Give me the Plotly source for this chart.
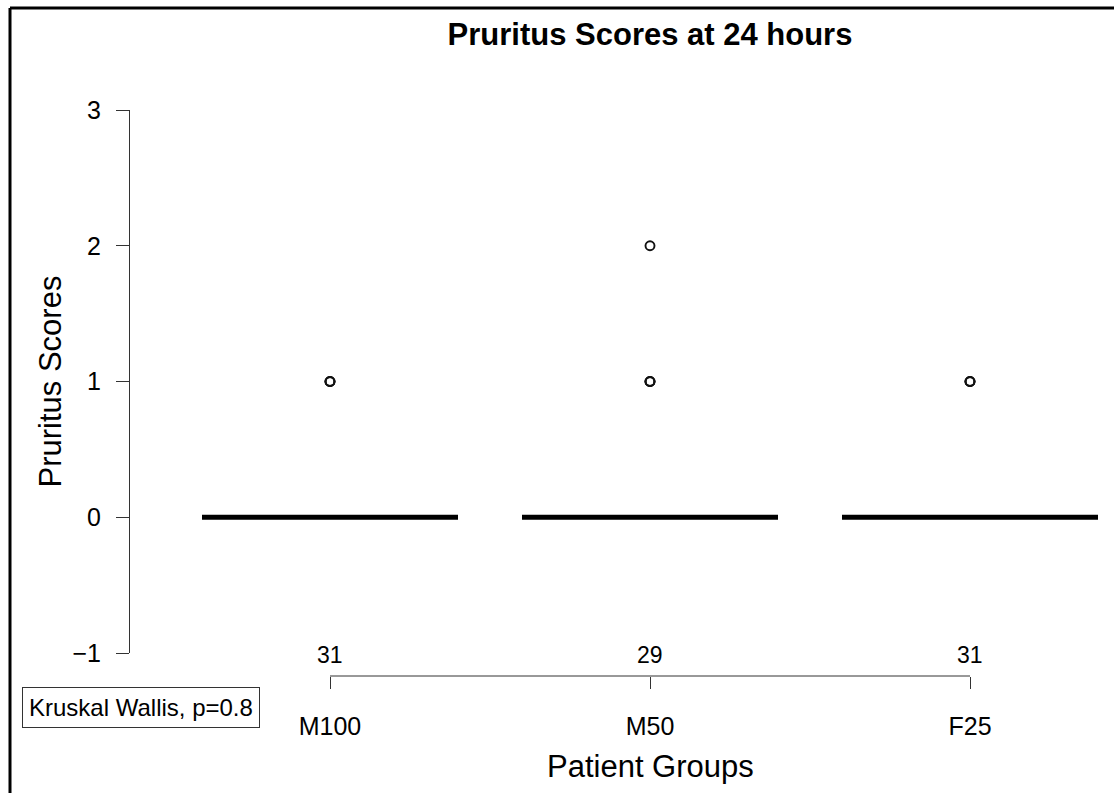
import numpy as np
import plotly.graph_objects as go

# ---- data ----
groups = ["M100", "M50", "F25"]
group_pos = [1, 2, 3]
score_levels = [0, 1, 2]
# number of patients at each score level (0, 1, 2) per group
counts_M100 = [28, 3, 0]
counts_M50 = [25, 3, 1]
counts_F25 = [28, 3, 0]
n_labels = ["31", "29", "31"]
y_ticks = [-1, 0, 1, 2, 3]
title_text = "Pruritus Scores at 24 hours"
test_label = "Kruskal Wallis, p=0.8"

all_counts = [counts_M100, counts_M50, counts_F25]

OFF = 0  # page body margin removed via post_script
W, H = 1114, 793
L = 130 - OFF
T = 110 - OFF
AX_Y = 676 - OFF
B = H - AX_Y
plot_h = H - T - B
plot_w = W - L
ydom0 = (676 - 653) / plot_h


def px(sx):
    return (sx - OFF - L) / plot_w


def py(sy):
    return (AX_Y - (sy - OFF)) / plot_h


FONT = "Liberation Sans, Arial, Helvetica, sans-serif"

fig = go.Figure()
for g, pos, cnts in zip(groups, group_pos, all_counts):
    vals = np.repeat(score_levels, cnts)
    fig.add_trace(go.Box(
        x=[pos] * len(vals), y=vals, name=g,
        width=0.8, boxpoints="outliers", jitter=0, pointpos=0,
        line=dict(color="black", width=5),
        fillcolor="rgba(0,0,0,0)",
        marker=dict(symbol="circle-open", size=9, color="#111",
                    line=dict(width=1.9, color="#111"), outliercolor="#111"),
        whiskerwidth=0, quartilemethod="linear", showlegend=False,
    ))

fig.update_layout(
    width=W, height=H,
    margin=dict(l=L, r=0, t=T, b=B, pad=0),
    plot_bgcolor="white", paper_bgcolor="white",
    font=dict(family=FONT, color="black"),
    title=dict(text="<b>" + title_text + "</b>", x=(650 - OFF) / W, xref="container",
               xanchor="center", y=1 - (34 - OFF) / H, yref="container", yanchor="middle",
               font=dict(size=31, family=FONT, color="black")),
    showlegend=False,
)

fig.update_yaxes(
    range=[-1, 3], domain=[ydom0, 1], tickvals=y_ticks,
    ticks="outside", ticklen=13, tickwidth=1, tickcolor="#333",
    showline=True, linecolor="#333", linewidth=1,
    showgrid=False, zeroline=False,
    tickfont=dict(size=25, family=FONT),
    ticklabelstandoff=10,
    automargin=False,
)

fig.update_xaxes(
    range=[(130 - 330) / 320 + 1, (W + OFF - 330) / 320 + 1],
    anchor="free", position=0,
    tickvals=group_pos, ticktext=groups,
    ticks="outside", ticklen=12, tickwidth=1, tickcolor="#333",
    showline=False, showgrid=False, zeroline=False,
    tickfont=dict(size=25, family=FONT),
    ticklabelstandoff=16,
    automargin=False,
)

# x-axis line spanning the groups
fig.add_shape(type="line", xref="x", yref="paper", x0=group_pos[0], x1=group_pos[-1],
              y0=0, y1=0, line=dict(color="#333", width=1))

# sample size labels
for pos, lab in zip(group_pos, n_labels):
    fig.add_annotation(x=pos, y=-1, xref="x", yref="y", text=lab, showarrow=False,
                       yanchor="middle", yshift=-2, font=dict(size=23, family=FONT))

# axis titles
fig.add_annotation(x=2, xref="x", y=py(766), yref="paper",
                   text="Patient Groups", showarrow=False, yanchor="middle",
                   font=dict(size=31, family=FONT))
fig.add_annotation(x=px(50), xref="paper", y=1, yref="y",
                   text="Pruritus Scores", showarrow=False, textangle=-90,
                   xanchor="center", yanchor="middle",
                   font=dict(size=31, family=FONT))

# test label box
fig.add_annotation(x=px(22), y=py(707.5), xref="paper", yref="paper",
                   xanchor="left", yanchor="middle", text=test_label, showarrow=False,
                   bordercolor="#333", borderwidth=1, borderpad=6, bgcolor="white",
                   font=dict(size=24, family=FONT))

# outer frame (left and top edges)
fig.add_shape(type="line", xref="paper", yref="paper", x0=px(10), x1=px(10),
              y0=py(8), y1=py(H + 40), line=dict(color="black", width=3))
fig.add_shape(type="line", xref="paper", yref="paper", x0=px(10), x1=1.05,
              y0=py(8), y1=py(8), line=dict(color="black", width=3))

fig.write_html(
    "out.html",
    config={"displayModeBar": False},
    post_script="document.body.style.margin='0';document.body.style.overflow='hidden';",
)
